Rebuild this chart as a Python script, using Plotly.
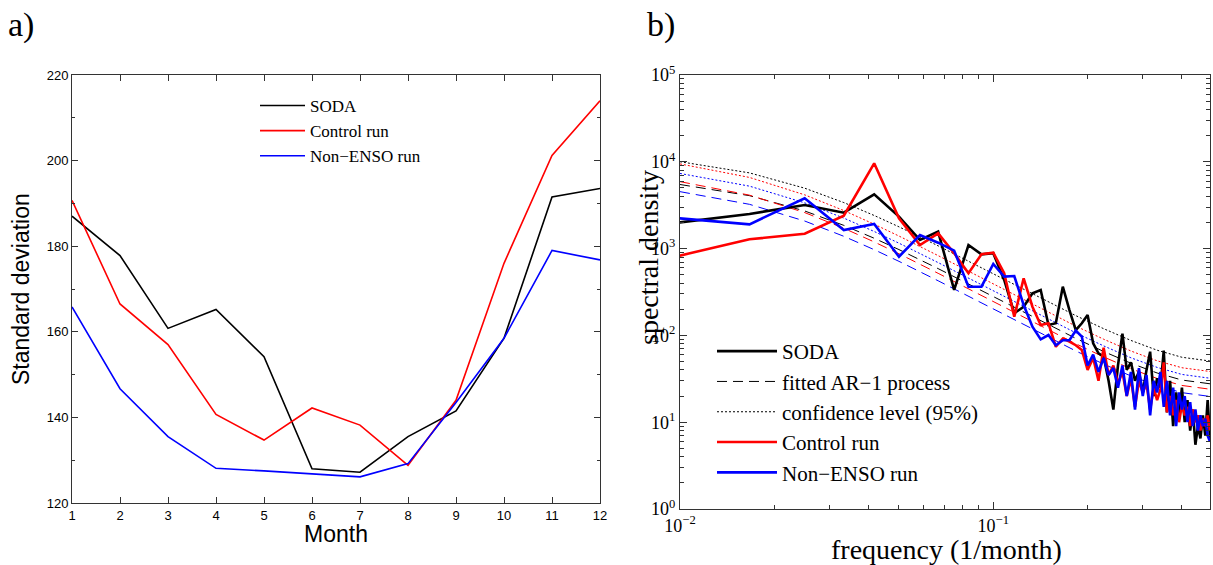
import plotly.graph_objects as go

# ---------------- Panel a data ----------------
months = [1, 2, 3, 4, 5, 6, 7, 8, 9, 10, 11, 12]
soda_std = [187.0, 177.8, 160.8, 165.2, 154.2, 128.0, 127.2, 135.5, 141.5, 158.5, 191.5, 193.5]
control_std = [190.7, 166.5, 157.0, 140.7, 134.7, 142.2, 138.2, 128.8, 144.0, 176.0, 201.2, 214.0]
nonenso_std = [165.8, 146.7, 135.5, 128.1, 127.5, 126.8, 126.1, 129.2, 143.5, 158.5, 179.0, 176.8]

# ---------------- Panel b data ----------------
k_index = list(range(1, 60))
freq = [k / 120 for k in k_index]

soda_spec = [1854, 2506, 3178, 2594, 4217, 2334, 1256, 1567, 334, 1100,
             859, 884, 435, 180, 214, 306, 334, 132, 138, 364,
             196, 115, 138, 172, 81, 62, 57, 30, 14, 45,
             105, 40, 49, 30, 38, 22, 40, 65, 20, 32,
             25, 67, 13, 30, 9, 22, 12, 25, 10, 18,
             8, 14, 5.5, 9, 6.5, 12, 7, 18, 6.5]
control_spec = [713, 1279, 1486, 2395, 9600, 2233, 1100, 1500, 884, 519,
                859, 898, 519, 164, 454, 214, 132, 138, 74, 92,
                85, 77, 68, 40, 55, 30, 72, 35, 45, 28,
                38, 20, 32, 15, 30, 22, 28, 14, 25, 18,
                24, 49, 13, 20, 12, 18, 10, 16, 12, 15,
                9, 14, 10, 12, 8, 11, 9, 12, 8]
nonenso_spec = [2361, 1905, 3796, 1638, 1918, 807, 1435, 1170, 946, 364,
                364, 665, 475, 483, 224, 126, 90, 101, 77, 88,
                88, 114, 97, 45, 60, 38, 55, 35, 42, 25,
                45, 20, 38, 14, 42, 20, 35, 12, 30, 22,
                38, 15, 30, 12, 25, 9, 22, 14, 20, 10,
                17, 9, 14, 8, 12, 9, 11, 7, 6]

# smooth reference curves, read at selected frequencies
ref_freq = [0.01, 2/120, 3/120, 4/120, 5/120, 6/120, 8/120, 10/120, 12/120,
            15/120, 18/120, 22/120, 27/120, 33/120, 40/120, 48/120, 59/120]
soda_ar1 = [5478, 4072, 2714, 1852, 1316, 974, 588, 391, 279, 185, 132, 92.5, 65.3, 47.8, 36.9, 30.6, 27.7]
soda_conf = [10025, 7452, 4967, 3389, 2408, 1782, 1076, 716, 511, 339, 242, 169, 119.5, 87.5, 67.5, 56, 50.7]
control_ar1 = [5910, 4128, 2601, 1715, 1194, 872, 519, 343, 244, 161, 115, 80.2, 56.5, 41.3, 31.9, 26.5, 24.0]
control_conf = [9456, 6605, 4162, 2744, 1910, 1395, 830, 549, 390, 258, 184, 128, 90.4, 66.1, 51.0, 42.4, 38.4]
nonenso_ar1 = [4530, 3236, 2079, 1386, 972, 713, 426, 282, 201, 132.5, 94.8, 66.2, 46.7, 34.1, 26.4, 21.9, 19.8]
nonenso_conf = [7339, 5242, 3368, 2245, 1575, 1155, 690, 457, 326, 215, 154, 107, 75.7, 55.2, 42.8, 35.5, 32.1]

# tick labels
x_tickvals = [0.01, 0.1]
x_ticktext = ["10<sup>\u22122</sup>", "10<sup>\u22121</sup>"]
y_tickvals = [1, 10, 100, 1000, 10000, 100000]
y_ticktext = ["10<sup>0</sup>", "10<sup>1</sup>", "10<sup>2</sup>", "10<sup>3</sup>",
              "10<sup>4</sup>", "10<sup>5</sup>"]

SERIF = "Liberation Serif, Times New Roman, serif"
SANS = "Liberation Sans, Arial, sans-serif"
BLACK, RED, BLUE = "#000000", "#ff0000", "#0000ff"

fig = go.Figure()

# ---- panel a ----
for name, vals, col in [("SODA", soda_std, BLACK), ("Control run", control_std, RED),
                        ("Non\u2212ENSO run", nonenso_std, BLUE)]:
    fig.add_trace(go.Scatter(x=months, y=vals, mode="lines", name=name,
                             line=dict(color=col, width=1.6),
                             xaxis="x", yaxis="y", legend="legend"))

# ---- panel b reference curves ----
curves = [
    (soda_ar1, BLACK, "dash", "fitted AR\u22121 process", True, 2),
    (soda_conf, BLACK, "dot", "confidence level (95%)", True, 3),
    (control_ar1, RED, "dash", "", False, 10),
    (control_conf, RED, "dot", "", False, 10),
    (nonenso_ar1, BLUE, "dash", "", False, 10),
    (nonenso_conf, BLUE, "dot", "", False, 10),
]
for vals, col, dash, name, show, rank in curves:
    fig.add_trace(go.Scatter(x=ref_freq, y=vals, mode="lines", name=name,
                             line=dict(color=col, width=1, dash=("10px,6px" if dash == "dash" else "2px,2px")),
                             showlegend=show, legendrank=rank,
                             xaxis="x2", yaxis="y2", legend="legend2"))

for name, vals, col, rank in [("SODA", soda_spec, BLACK, 1), ("Control run", control_spec, RED, 4),
                              ("Non\u2212ENSO run", nonenso_spec, BLUE, 5)]:
    fig.add_trace(go.Scatter(x=freq, y=vals, mode="lines", name=name,
                             line=dict(color=col, width=2.6),
                             legendrank=rank,
                             xaxis="x2", yaxis="y2", legend="legend2"))

W, H = 1213, 565
def px_x(p):
    return p / W
def px_y(p):
    return 1 - p / H

axis_common = dict(showgrid=False, zeroline=False, showline=True, linecolor="#333333",
                   linewidth=1, mirror="ticks", ticks="inside", tickcolor="#333333",
                   automargin=False)

fig.update_layout(
    width=W, height=H,
    margin=dict(l=0, r=0, t=0, b=0, autoexpand=False),
    paper_bgcolor="white", plot_bgcolor="white",
    xaxis=dict(domain=[px_x(72), px_x(600)], range=[1, 12], tickvals=months,
               ticklen=6, tickfont=dict(family=SANS, size=13, color="black"),
               anchor="y", **axis_common),
    yaxis=dict(domain=[px_y(503), px_y(75)], range=[120, 220], dtick=20, tick0=120,
               ticklen=6, tickfont=dict(family=SANS, size=13, color="black"),
               minor=dict(ticks="inside", ticklen=3, dtick=10, tickcolor="#333333"),
               anchor="x", **axis_common),
    xaxis2=dict(type="log", domain=[px_x(680), px_x(1210)], range=[-2, -0.3083],
                tickvals=x_tickvals, ticktext=x_ticktext, ticklen=7,
                tickfont=dict(family=SERIF, size=18, color="black"),
                minor=dict(ticks="inside", ticklen=4, tickcolor="#333333", dtick="D1"),
                anchor="y2", **axis_common),
    yaxis2=dict(type="log", domain=[px_y(509), px_y(75)], range=[0, 5],
                tickvals=y_tickvals, ticktext=y_ticktext, ticklen=7,
                tickfont=dict(family=SERIF, size=18, color="black"),
                minor=dict(ticks="inside", ticklen=4, tickcolor="#333333", dtick="D1"),
                anchor="x2", **axis_common),
    legend=dict(x=px_x(255), y=px_y(88), xanchor="left", yanchor="top",
                font=dict(family=SERIF, size=17, color="black"),
                bgcolor="rgba(0,0,0,0)", tracegroupgap=0, itemwidth=45),
    legend2=dict(x=px_x(712), y=px_y(331), xanchor="left", yanchor="top",
                 font=dict(family=SERIF, size=21, color="black"),
                 bgcolor="rgba(0,0,0,0)", tracegroupgap=0, itemwidth=60,
                 traceorder="normal"),
    annotations=[
        dict(text="a)", x=px_x(6), y=px_y(25), xref="paper", yref="paper",
             xanchor="left", yanchor="middle", showarrow=False,
             font=dict(family=SERIF, size=34, color="black")),
        dict(text="b)", x=px_x(645), y=px_y(25), xref="paper", yref="paper",
             xanchor="left", yanchor="middle", showarrow=False,
             font=dict(family=SERIF, size=34, color="black")),
        dict(text="Month", x=px_x(336), y=px_y(534), xref="paper", yref="paper",
             xanchor="center", yanchor="middle", showarrow=False,
             font=dict(family=SANS, size=23, color="black")),
        dict(text="Standard deviation", x=px_x(21), y=px_y(289), xref="paper", yref="paper",
             xanchor="center", yanchor="middle", showarrow=False, textangle=-90,
             font=dict(family=SANS, size=23, color="black")),
        dict(text="frequency (1/month)", x=px_x(946), y=px_y(549), xref="paper", yref="paper",
             xanchor="center", yanchor="middle", showarrow=False,
             font=dict(family=SERIF, size=28, color="black")),
        dict(text="spectral density", x=px_x(648), y=px_y(258), xref="paper", yref="paper",
             xanchor="center", yanchor="middle", showarrow=False, textangle=-90,
             font=dict(family=SERIF, size=28, color="black")),
    ],
)

fig.write_html("out.html")
